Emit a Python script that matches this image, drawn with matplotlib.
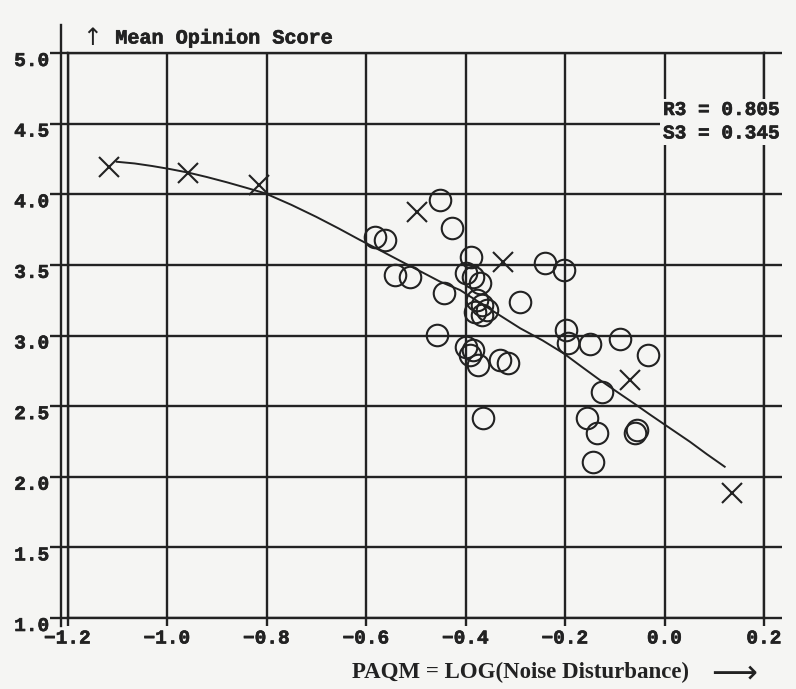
import matplotlib
matplotlib.use("Agg")
import matplotlib.pyplot as plt
import matplotlib.patheffects as pe

# listening test conditions drawn as crosses
cross_x = [-1.116, -0.957, -0.816, -0.498, -0.324, -0.069, 0.135]
cross_y = [4.195, 4.153, 4.065, 3.876, 3.522, 2.685, 1.883]

# listening test conditions drawn as circles
circle_x = [-0.451, -0.428, -0.582, -0.562, -0.388, -0.542, -0.512, -0.399,
            -0.384, -0.371, -0.443, -0.377, -0.367, -0.357, -0.381, -0.367,
            -0.290, -0.458, -0.398, -0.384, -0.391, -0.374, -0.331, -0.314,
            -0.364, -0.240, -0.203, -0.197, -0.193, -0.150, -0.089, -0.033,
            -0.126, -0.156, -0.136, -0.059, -0.056, -0.143]
circle_y = [3.959, 3.759, 3.699, 3.676, 3.558, 3.428, 3.416, 3.446,
            3.416, 3.370, 3.299, 3.251, 3.216, 3.181, 3.168, 3.145,
            3.239, 3.004, 2.921, 2.897, 2.862, 2.791, 2.827, 2.803,
            2.414, 3.511, 3.464, 3.039, 2.945, 2.940, 2.975, 2.862,
            2.602, 2.414, 2.308, 2.308, 2.331, 2.107]

# third order regression curve
fit_x = [-1.101, -1.065, -1.030, -0.995, -0.957, -0.920, -0.880, -0.842,
         -0.803, -0.750, -0.700, -0.655, -0.612, -0.570, -0.530, -0.490,
         -0.451, -0.411, -0.350, -0.290, -0.245, -0.203, -0.165, -0.130,
         -0.095, -0.060, -0.030, 0.000, 0.051, 0.085, 0.121]
fit_y = [4.230, 4.218, 4.200, 4.179, 4.153, 4.122, 4.085, 4.047,
         4.007, 3.925, 3.840, 3.758, 3.676, 3.600, 3.526, 3.453,
         3.381, 3.322, 3.185, 3.051, 2.965, 2.874, 2.775, 2.685,
         2.600, 2.516, 2.442, 2.370, 2.248, 2.160, 2.071]

x_ticks = [-1.2, -1.0, -0.8, -0.6, -0.4, -0.2, 0.0, 0.2]
y_ticks = [1.0, 1.5, 2.0, 2.5, 3.0, 3.5, 4.0, 4.5, 5.0]

ink = '#222222'
paper = '#f5f5f3'
mono = 'Liberation Mono'
heavy = [pe.withStroke(linewidth=0.45, foreground=ink)]

fig = plt.figure(figsize=(7.96, 6.89), dpi=100, facecolor=paper)
ax = fig.add_axes([67.5 / 796, 71 / 689, 696.5 / 796, 565 / 689])
ax.set_facecolor(paper)
ax.set_xlim(-1.2, 0.2)
ax.set_ylim(1.0, 5.0)

ax.set_xticks(x_ticks)
ax.set_xticklabels([f'{v:.1f}'.replace('-', '\u2212') for v in x_ticks])
ax.set_yticks(y_ticks)
ax.set_yticklabels([f'{v:.1f}' for v in y_ticks])

ax.grid(True, color=ink, lw=1.7)
ax.set_axisbelow(True)
for sp in ax.spines.values():
    sp.set_color(ink)
    sp.set_linewidth(1.7)

ax.tick_params(axis='x', direction='out', length=6, width=1.7, color=ink,
               pad=3, labelsize=14, labelcolor=ink)
ax.tick_params(axis='y', direction='out', length=13, width=1.7, color=ink,
               pad=0, labelsize=14, labelcolor=ink, left=True, right=True)
for lab in ax.get_xticklabels() + ax.get_yticklabels():
    lab.set_fontfamily(mono)
    lab.set_fontweight('bold')
    lab.set_path_effects(heavy)
for lab in ax.get_yticklabels():
    lab.set_verticalalignment('top')

# the y axis line sits just left of the -1.2 grid line
ax.plot([-1.213, -1.213], [0.943, 5.198], color=ink, lw=1.7, clip_on=False)

ax.plot(fit_x, fit_y, color=ink, lw=1.4, zorder=3)
ax.plot(circle_x, circle_y, 'o', mfc='none', mec=ink, ms=15.5, mew=1.5,
        zorder=4)
ax.plot(cross_x, cross_y, 'x', color=ink, ms=15, mew=1.5, zorder=4)

ax.text(-0.003, 4.51, 'R3 = 0.805\nS3 = 0.345', family=mono, weight='bold',
        size=14, color=ink, ha='left', va='center', linespacing=1.5,
        path_effects=heavy, bbox=dict(fc=paper, ec='none', pad=2), zorder=5)

ax.text(-1.171, 5.106, '\u2191', family='DejaVu Sans', size=17, color=ink,
        ha='left', va='center')
ax.text(-1.104, 5.106, 'Mean Opinion Score', family=mono, weight='bold',
        size=14.5, color=ink, ha='left', va='center', path_effects=heavy)

ax.text(-0.628, 0.611, 'PAQM = LOG(Noise Disturbance)',
        family='Liberation Serif', weight='bold', size=16.5, color=ink,
        ha='left', va='center')
ax.text(0.0935, 0.605, '\u27f6', family=['DejaVu Sans'], size=23,
        color=ink, ha='left', va='center')

fig.savefig('out.png', dpi=100, facecolor=paper)
